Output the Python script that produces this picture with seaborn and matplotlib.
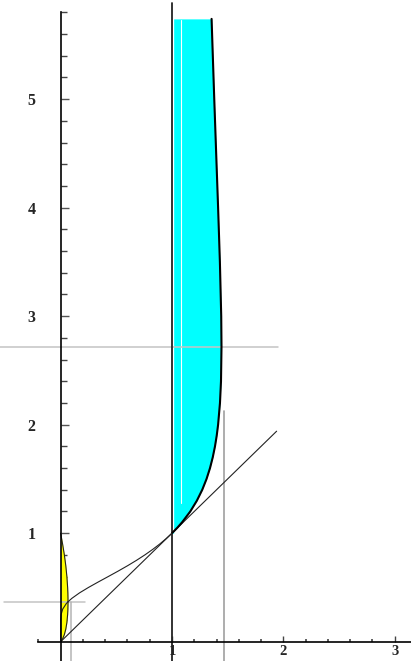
import matplotlib
matplotlib.use("Agg")
import matplotlib.pyplot as plt
import seaborn as sns
import numpy as np

# ---- data ----
# upper branch of x = y^(1/y), y >= 1
upper_y = [1.0, 1.05, 1.1, 1.2, 1.3, 1.4, 1.5, 1.6, 1.7, 1.8, 1.9, 2.0, 2.2, 2.4,
           2.718, 3.0, 3.5, 4.0, 4.5, 5.0, 5.5, 5.74]
upper_x = [1.0, 1.0476, 1.0905, 1.1641, 1.2236, 1.2717, 1.3104, 1.3415, 1.3663,
           1.3862, 1.4019, 1.4142, 1.4310, 1.4402, 1.4447, 1.4422, 1.4303, 1.4142,
           1.3969, 1.3797, 1.3634, 1.3557]
# lower branch of x = y^(1/y), 0 <= y <= 1
lower_y = [0.0, 0.1, 0.2, 0.25, 0.3, 0.35, 0.3679, 0.4, 0.45, 0.5, 0.55, 0.6, 0.65,
           0.7, 0.75, 0.8, 0.85, 0.9, 0.95, 1.0]
lower_x = [0.0, 0.0, 0.0003, 0.0039, 0.0181, 0.0498, 0.0660, 0.1012, 0.1696, 0.25,
           0.3372, 0.4268, 0.5154, 0.6008, 0.6814, 0.7566, 0.8260, 0.8895, 0.9474, 1.0]
# two-cycle band (yellow)
cyc_x = [0.0, 0.00144, 0.00849, 0.0173, 0.0331, 0.0460, 0.0558, 0.0625, 0.0646, 0.0656, 0.0660]
cyc_lo = [0.0, 0.0015, 0.0108, 0.026, 0.0655, 0.1159, 0.177, 0.25, 0.2915, 0.3363, 0.3679]
cyc_hi = [1.0, 0.99, 0.95, 0.9, 0.8, 0.7, 0.6, 0.5, 0.45, 0.4, 0.3679]
# diagonal y = x
diag_x = [0.0, 1.94]
diag_y = [0.0, 1.94]
# guide lines
e_level = 2.718
e_root = 1.47
inv_e = 0.366
low_root = 0.093
stripe_x = 1.08

xticks = [1, 2, 3]
yticks = [1, 2, 3, 4, 5]

sns.set_theme(style="white")
plt.rcParams['font.family'] = ['Liberation Serif', 'DejaVu Serif']

fig = plt.figure(figsize=(4.11, 6.61), dpi=100)
ax = fig.add_axes([0, 0, 1, 1])
ax.set_facecolor("white")

# cyan region
ax.fill_betweenx(upper_y, [1.015] * len(upper_y), upper_x, color="#00FFFF", lw=0, zorder=1)
ax.plot([stripe_x, stripe_x], [1.28, 5.73], color="white", lw=0.8, zorder=1.5)
# yellow band
ax.fill_between(cyc_x, cyc_lo, cyc_hi, color="#FFFF00", lw=0, zorder=1)

# gray guide lines
ax.plot([-0.545, 1.95], [e_level, e_level], color="#c4c4c4", lw=1.1, zorder=2)
ax.plot([e_root, e_root], [-0.2, 2.13], color="#a0a0a0", lw=1.2, zorder=2)
ax.plot([-0.51, 0.22], [inv_e, inv_e], color="#c4c4c4", lw=1.1, zorder=2)
ax.plot([low_root, low_root], [-0.2, inv_e], color="#b4b4b4", lw=1.1, zorder=2)

# black lines
sns.lineplot(x=diag_x, y=diag_y, sort=False, estimator=None, color="#222222", lw=0.8, ax=ax, zorder=3)
ax.plot([1, 1], [-0.2, 5.89], color="#222222", lw=1.3, zorder=3)
sns.lineplot(x=upper_x, y=upper_y, sort=False, estimator=None, color="black", lw=1.5, ax=ax, zorder=4)
sns.lineplot(x=lower_x, y=lower_y, sort=False, estimator=None, color="#222222", lw=0.8, ax=ax, zorder=4)
sns.lineplot(x=cyc_x, y=cyc_lo, sort=False, estimator=None, color="#222222", lw=0.8, ax=ax, zorder=4)
sns.lineplot(x=cyc_x, y=cyc_hi, sort=False, estimator=None, color="#222222", lw=0.8, ax=ax, zorder=4)

ax.set_xlim(-0.545, 3.147)
ax.set_ylim(-0.178, 5.914)

for s in ["top", "right"]:
    ax.spines[s].set_visible(False)
ax.spines["left"].set_position(("data", 0))
ax.spines["bottom"].set_position(("data", 0))
ax.spines["left"].set_bounds(-0.178, 5.80)
ax.spines["bottom"].set_bounds(-0.2, 3.147)
for s in ["left", "bottom"]:
    ax.spines[s].set_color("black")
    ax.spines[s].set_linewidth(1.2)
    ax.spines[s].set_zorder(5)

ax.set_xticks(xticks)
ax.set_yticks(yticks)
ax.set_xticks([v for v in np.round(np.arange(-0.2, 3.01, 0.2), 1) if abs(v - round(v)) > 1e-6], minor=True)
ax.set_yticks([v for v in np.round(np.arange(0.2, 5.81, 0.2), 1) if abs(v - round(v)) > 1e-6], minor=True)
ax.set_xticklabels([str(t) for t in xticks])
ax.set_yticklabels([str(t) for t in yticks])
ax.tick_params(axis="y", which="major", direction="in", length=6, width=1.0, color="#555555",
               left=True, pad=18, labelsize=11.5)
ax.tick_params(axis="y", which="minor", direction="in", length=4, width=1.0, color="#444444", left=True)
ax.tick_params(axis="x", which="major", direction="in", length=4, width=1.0, color="#444444",
               bottom=True, pad=2.5, labelsize=10.5)
ax.tick_params(axis="x", which="minor", direction="in", length=2.5, width=1.2, color="#444444", bottom=True)
for lbl in ax.get_xticklabels() + ax.get_yticklabels():
    lbl.set_fontweight("bold")

fig.savefig("out.png", dpi=100)
